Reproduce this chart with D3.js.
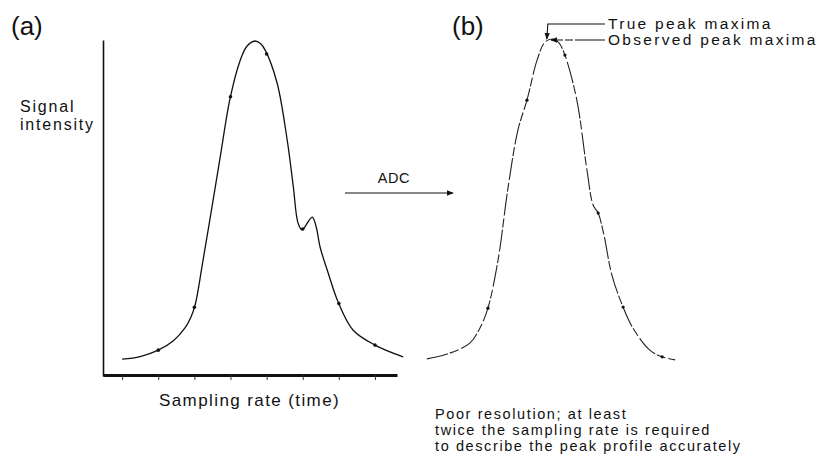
<!DOCTYPE html>
<html>
<head>
<meta charset="utf-8">
<script src="https://cdn.jsdelivr.net/npm/d3@7"></script>
<style>
  body { margin: 0; background: #fff; }
  svg { display: block; }
  text { font-family: "Liberation Sans", Arial, sans-serif; fill: #111; }
</style>
</head>
<body>
<div id="chart"></div>
<script>
// (a) analogue signal: time (sampling intervals) vs intensity (% of peak)
const analogueT = [0, 0.5, 1.0, 1.42, 1.74, 1.9, 2.02, 2.24, 2.52, 2.72, 2.99, 3.27, 3.46, 3.68, 3.82, 3.96, 4.29, 4.57, 4.74, 4.87, 4.98, 5.26, 5.37, 5.48, 5.7, 5.98, 6.39, 7.0, 7.78];
const analogueV = [5, 5.8, 7.7, 10.5, 14.3, 17.4, 21.1, 34.5, 52.4, 65.5, 82.7, 94, 98.2, 99.7, 99, 97, 87.2, 70.2, 56.3, 45.5, 43.5, 47.3, 44.5, 38.4, 30.8, 22, 13.7, 9.2, 5.7];
// sampling instants (tick positions)
const sampleT = [1, 2, 3, 4, 5, 6, 7];
const tickT = [0, 1, 2, 3, 4, 5, 6, 7];

// (b) digitised signal redrawn through the samples
const digitalT = [0.30, 0.80, 1.49, 1.77, 1.99, 2.27, 2.55, 2.82, 3.07, 3.35, 3.57, 3.79, 3.95, 4.12, 4.45, 4.73, 4.90, 5.04, 5.20, 5.42, 5.73, 6.0, 6.47, 6.81, 7.17];
const digitalV = [5.1, 6.3, 9.8, 14.3, 20.2, 34.5, 56.3, 73.2, 82.1, 94, 99.4, 100.3, 99.2, 95.5, 82.1, 61.3, 50.9, 48.5, 42, 30, 20.5, 14.3, 7.7, 5.7, 4.8];
const digitalSampleT = [1.99, 3.07, 4.12, 5.04, 5.73, 6.81];

const truePeakT = 3.62;
const observedPeakT = 3.68;

const noteLines = [
  "Poor resolution; at least",
  "twice the sampling rate is required",
  "to describe the peak profile accurately"
];

const W = 823, H = 457;
const svg = d3.select("#chart").append("svg").attr("width", W).attr("height", H);

svg.append("defs").append("marker")
  .attr("id", "arrow")
  .attr("viewBox", "0 0 10 10")
  .attr("refX", 9).attr("refY", 5)
  .attr("markerWidth", 6).attr("markerHeight", 6)
  .attr("orient", "auto-start-reverse")
  .append("path")
  .attr("d", "M0,1 L10,5 L0,9 Z")
  .attr("fill", "#111");

// scales
const xA = d3.scaleLinear().domain([-0.53, 7.61]).range([103, 397]);
const xB = d3.scaleLinear().domain([0, 7]).range([416, 669]);
const y = d3.scaleLinear().domain([0, 100]).range([376, 40]);

const ptsA = analogueT.map((t, i) => ({t, v: analogueV[i]}));
const ptsB = digitalT.map((t, i) => ({t, v: digitalV[i]}));

const valueAt = (ts, vs, t) => {
  const i = d3.bisectLeft(ts, t);
  if (i <= 0) return vs[0];
  if (i >= ts.length) return vs[vs.length - 1];
  const f = (t - ts[i - 1]) / (ts[i] - ts[i - 1]);
  return vs[i - 1] + f * (vs[i] - vs[i - 1]);
};

// axes of panel (a)
svg.append("g")
  .attr("class", "y-axis")
  .attr("transform", `translate(${xA.range()[0]},0)`)
  .call(d3.axisLeft(y).tickValues([]).tickSizeOuter(0))
  .call(g => g.select(".domain").attr("stroke", "#111").attr("stroke-width", 1.6));

svg.append("g")
  .attr("class", "x-axis")
  .attr("transform", `translate(0,${y(0) - 1})`)
  .call(d3.axisBottom(xA).tickValues(tickT).tickSize(5).tickSizeOuter(0).tickFormat(""))
  .call(g => g.select(".domain").attr("stroke", "#111").attr("stroke-width", 3))
  .call(g => g.selectAll(".tick line").attr("stroke", "#333").attr("stroke-width", 1));

// curve (a)
const lineA = d3.line()
  .x(d => xA(d.t))
  .y(d => y(d.v))
  .curve(d3.curveCatmullRom.alpha(0.5));

svg.append("path")
  .datum(ptsA)
  .attr("fill", "none")
  .attr("stroke", "#111")
  .attr("stroke-width", 1.3)
  .attr("d", lineA);

svg.selectAll(".dotA")
  .data(sampleT)
  .join("circle")
  .attr("class", "dotA")
  .attr("cx", t => xA(t))
  .attr("cy", t => y(valueAt(analogueT, analogueV, t)))
  .attr("r", 1.8)
  .attr("fill", "#111");

// curve (b)
const lineB = d3.line()
  .x(d => xB(d.t))
  .y(d => y(d.v))
  .curve(d3.curveCatmullRom.alpha(0.5));

svg.append("path")
  .datum(ptsB)
  .attr("fill", "none")
  .attr("stroke", "#222")
  .attr("stroke-width", 1.1)
  .attr("stroke-dasharray", "22,2,9,3")
  .attr("d", lineB);

svg.selectAll(".dotB")
  .data(digitalSampleT)
  .join("circle")
  .attr("class", "dotB")
  .attr("cx", t => xB(t))
  .attr("cy", t => y(valueAt(digitalT, digitalV, t)))
  .attr("r", 1.6)
  .attr("fill", "#111");

// panel labels
svg.append("text").attr("x", 11).attr("y", 35).style("font-size", "26px").text("(a)");
svg.append("text").attr("x", 452).attr("y", 35).style("font-size", "26px").text("(b)");

svg.append("text").attr("x", 20).attr("y", 112)
  .style("font-size", "16px").style("letter-spacing", "1.8px").text("Signal");
svg.append("text").attr("x", 20).attr("y", 130)
  .style("font-size", "16px").style("letter-spacing", "1.8px").text("intensity");

svg.append("text")
  .attr("x", (xA(0) + xA(7)) / 2 + 1).attr("y", 406)
  .attr("text-anchor", "middle")
  .style("font-size", "17px").style("letter-spacing", "1.4px")
  .text("Sampling rate (time)");

// ADC arrow
svg.append("text").attr("x", 394).attr("y", 183)
  .attr("text-anchor", "middle")
  .style("font-size", "14.5px").style("letter-spacing", "0.6px")
  .text("ADC");
svg.append("line")
  .attr("x1", 345).attr("y1", 193).attr("x2", 453).attr("y2", 193)
  .attr("stroke", "#111").attr("stroke-width", 1.2)
  .attr("marker-end", "url(#arrow)");

// peak maxima annotations
const tx = xB(truePeakT), ox = xB(observedPeakT) + 2;
const labelX = 605;
svg.append("path")
  .attr("d", `M${labelX},24 L${tx + 1},24 L${tx},${y(99.4) - 3}`)
  .attr("fill", "none").attr("stroke", "#111").attr("stroke-width", 1.1)
  .attr("marker-end", "url(#arrow)");
svg.append("line")
  .attr("x1", labelX).attr("y1", 40).attr("x2", ox).attr("y2", 40)
  .attr("stroke", "#111").attr("stroke-width", 1.1)
  .attr("stroke-dasharray", "30,2,8,2")
  .attr("marker-end", "url(#arrow)");

svg.append("text").attr("x", labelX + 3).attr("y", 29)
  .style("font-size", "15.5px").style("letter-spacing", "2.3px").text("True peak maxima");
svg.append("text").attr("x", labelX + 3).attr("y", 45)
  .style("font-size", "15.5px").style("letter-spacing", "2.3px").text("Observed peak maxima");

// note
svg.append("g")
  .selectAll("text")
  .data(noteLines)
  .join("text")
  .attr("x", 435)
  .attr("y", (d, i) => 419 + i * 16)
  .style("font-size", "14.5px")
  .style("letter-spacing", "1.6px")
  .text(d => d);
</script>
</body>
</html>
